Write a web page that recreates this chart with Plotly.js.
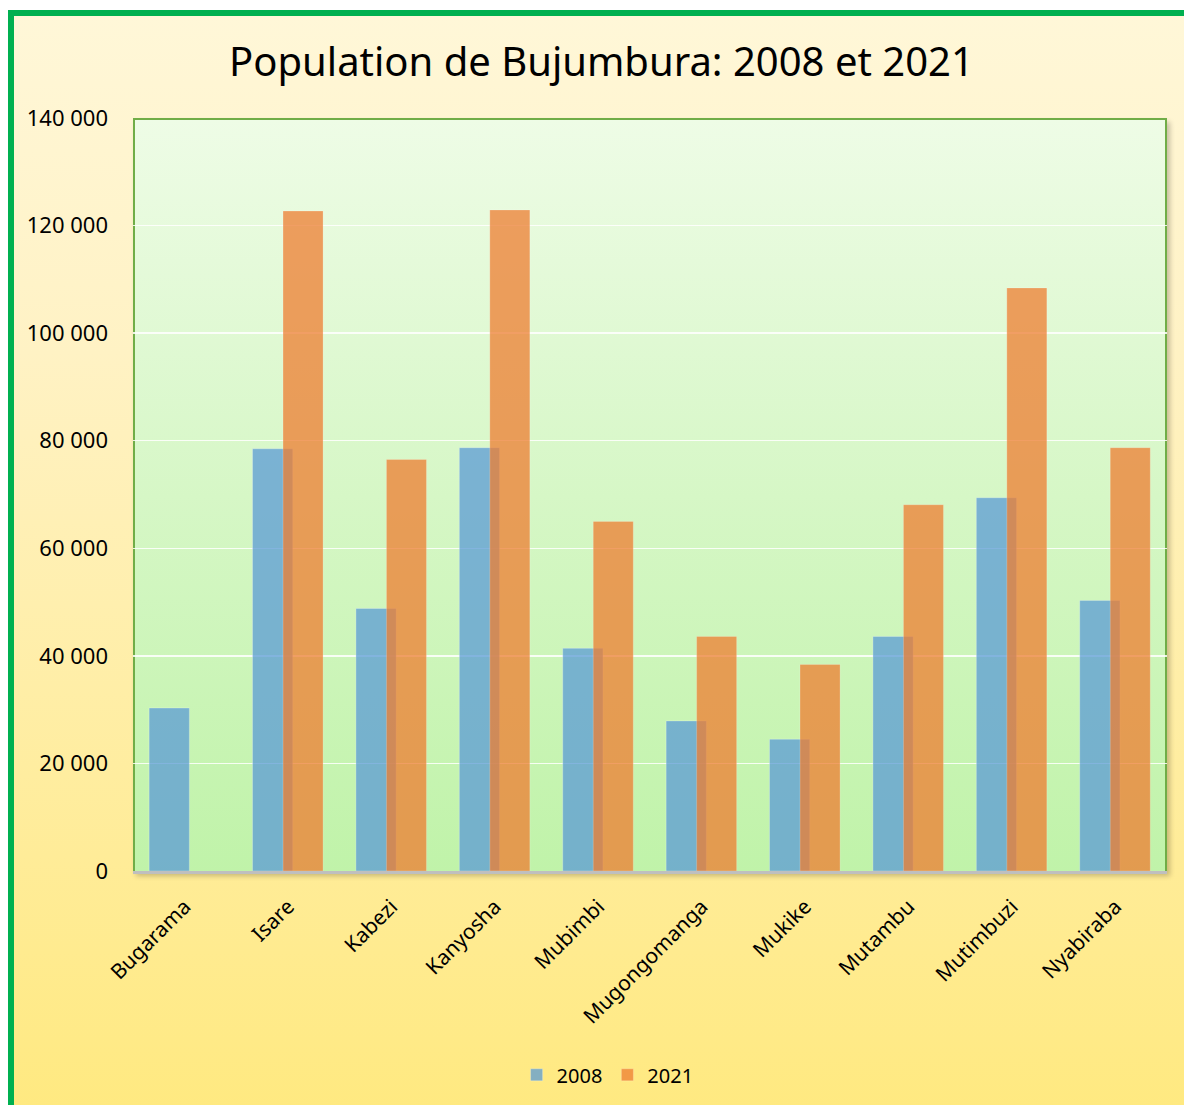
<!DOCTYPE html>
<html>
<head>
<meta charset="utf-8">
<script src="https://cdn.plot.ly/plotly-3.0.1.min.js"></script>
<style>
  html, body { margin: 0; padding: 0; background: #ffffff; width: 1184px; height: 1105px; overflow: hidden; }
  #frame {
    position: absolute; left: 8px; top: 10px; width: 1200px; height: 1120px;
    border-left: 6px solid #00B050; border-top: 6px solid #00B050;
    background: linear-gradient(to bottom, #FFF7D8 0%, #FFF2C4 30%, #FFEC98 75%, #FFE97E 100%);
  }
  #plotbg {
    position: absolute; left: 133px; top: 118px; width: 1034px; height: 754px; box-sizing: border-box;
    border-top: 2px solid #70AD47; border-left: 2px solid #70AD47; border-right: 2px solid #70AD47;
    background: linear-gradient(to bottom, #EEFCE6 0%, #D6F7C6 50%, #C0F3A9 100%);
    box-shadow: 3px 4px 5px rgba(0,0,0,0.22);
  }
  #chart { position: absolute; left: 0; top: 0; width: 1184px; height: 1105px; }
</style>
</head>
<body>
<div id="frame"></div>
<div id="plotbg"></div>
<div id="chart"></div>
<script>
const communes = ["Bugarama", "Isare", "Kabezi", "Kanyosha", "Mubimbi", "Mugongomanga", "Mukike", "Mutambu", "Mutimbuzi", "Nyabiraba"];
const pop2008 = [30300, 78500, 48800, 78700, 41400, 27900, 24500, 43600, 69400, 50300];
const pop2021 = [null, 122700, 76500, 122900, 65000, 43600, 38400, 68100, 108400, 78700];
const seriesNames = ["2008", "2021"];
const yTicks = [0, 20000, 40000, 60000, 80000, 100000, 120000, 140000];

const FONT = "Noto Sans, Open Sans, sans-serif";

const traces = [
  {
    type: "bar", name: seriesNames[0], x: communes, y: pop2008,
    width: 0.389, offset: -0.344,
    marker: { color: "rgba(91,155,213,0.75)", line: { color: "rgba(255,255,255,0.25)", width: 1 } },
    hoverinfo: "x+y+name"
  },
  {
    type: "bar", name: seriesNames[1], x: communes, y: pop2021,
    width: 0.387, offset: -0.049,
    marker: { color: "rgba(237,125,49,0.75)", line: { color: "rgba(255,255,255,0.2)", width: 1 } },
    hoverinfo: "x+y+name"
  }
];

const layout = {
  width: 1184, height: 1105,
  margin: { l: 133, r: 17, t: 118, b: 233, pad: 0 },
  paper_bgcolor: "rgba(0,0,0,0)",
  plot_bgcolor: "rgba(0,0,0,0)",
  separators: ", ",
  barmode: "overlay",
  font: { family: FONT, size: 20, color: "#000000" },
  title: {
    text: "Population de Bujumbura: 2008 et 2021",
    font: { family: FONT, size: 40, color: "#000000" },
    xref: "container", x: 0.508, xanchor: "center",
    yref: "container", y: 1 - 62 / 1105, yanchor: "middle"
  },
  xaxis: {
    type: "category",
    tickangle: -45,
    ticks: "",
    showgrid: false,
    showline: true, linecolor: "#BFBFBF", linewidth: 3,
    tickfont: { family: FONT, size: 21, color: "#000000" },
    ticklabelstandoff: 12,
    fixedrange: true
  },
  yaxis: {
    range: [0, 140000],
    tickvals: yTicks,
    tickformat: ",d",
    ticks: "",
    showgrid: true, gridcolor: "rgba(255,255,255,0.85)", gridwidth: 1.5,
    zeroline: false,
    showline: false,
    tickfont: { family: FONT, size: 22, color: "#000000" },
    ticklabelstandoff: 24,
    fixedrange: true
  },
  legend: {
    orientation: "h",
    x: 0.459, xanchor: "center",
    y: -0.269, yanchor: "middle",
    font: { family: FONT, size: 20, color: "#000000" },
    bgcolor: "rgba(0,0,0,0)",
    itemwidth: 30,
    traceorder: "normal"
  },
  showlegend: true,
  bargap: 0
};

Plotly.newPlot("chart", traces, layout, { displayModeBar: false, staticPlot: true });
</script>
</body>
</html>
